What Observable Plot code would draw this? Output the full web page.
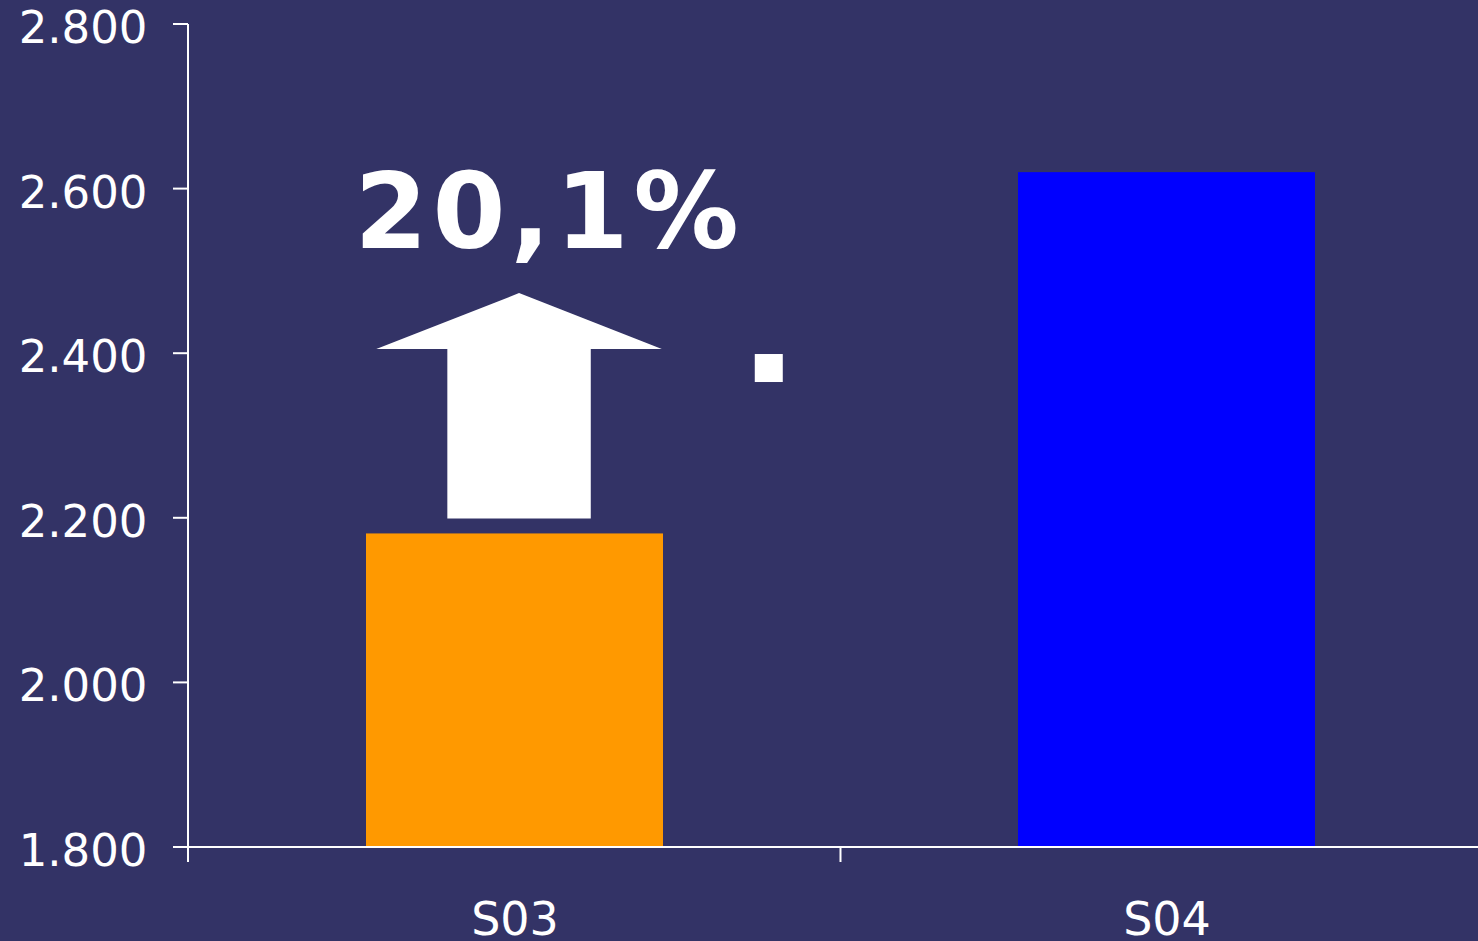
<!DOCTYPE html>
<html>
<head>
<meta charset="utf-8">
<script src="https://cdn.jsdelivr.net/npm/d3@7"></script>
<script src="https://cdn.jsdelivr.net/npm/@observablehq/plot@0.6"></script>
<style>
  html, body { margin: 0; padding: 0; background: #333366; overflow: hidden; }
  #chart svg { max-width: none !important; display: block; }
</style>
</head>
<body>
<div id="chart"></div>
<script>
// Data
const categories = ["S03", "S04"];
const values = [2181, 2620];
const barColors = ["#FF9900", "#0000FF"];
const yTicks = [1800, 2000, 2200, 2400, 2600, 2800];
const yDomain = [1800, 2800];

const data = categories.map((c, i) => ({category: c, value: values[i], color: barColors[i]}));
const growth = (values[1] / values[0] - 1) * 100;
const growthLabel = growth.toFixed(1).replace(".", ",") + "%";

const W = 1492, H = 941;
const mL = 188, mR = 0, mT = 24, mB = 94;
const PI = 0.5445, PO = PI / 2;
const fontFamily = "'DejaVu Sans', Verdana, sans-serif";
const fmt = d => d3.format(",")(d).replace(/,/g, ".");

// axes lines and boundary ticks, drawn using the scales
function axisFrame(index, scales, values, dims) {
  const g = d3.create("svg:g").attr("stroke", "white").attr("stroke-width", 2).attr("fill", "none");
  const x = scales.x, y = scales.y;
  const step = x(categories[1]) - x(categories[0]);
  const bandStart0 = x(categories[0]) - PO * step;
  const y0 = y(yDomain[0]), y1 = y(yDomain[1]);
  // y axis line (extends below like a tick)
  g.append("line").attr("x1", mL).attr("x2", mL).attr("y1", y1).attr("y2", y0 + 15);
  // x axis line (extends left like a tick)
  g.append("line").attr("x1", mL - 15).attr("x2", dims.width).attr("y1", y0).attr("y2", y0);
  // y ticks
  for (const t of yTicks) g.append("line").attr("x1", mL - 15).attr("x2", mL).attr("y1", y(t)).attr("y2", y(t));
  // x ticks at band boundaries
  for (let i = 1; i <= categories.length; i++) {
    const xb = bandStart0 + i * step;
    g.append("line").attr("x1", xb).attr("x2", xb).attr("y1", y0).attr("y2", y0 + 15);
  }
  return g.node();
}

// Growth annotation: arrow, percentage label and small square
function annotation(index, scales) {
  const x = scales.x, y = scales.y;
  const step = x(categories[1]) - x(categories[0]);
  const bw = step * (1 - PI);
  const c = x(categories[0]) + bw / 2;
  const g = d3.create("svg:g").attr("fill", "white");
  const ac = c + 0.007 * step;
  const hw = 0.219 * step, sw = 0.110 * step;
  const yTip = y(2473), yShoulder = y(2405), yBase = y(2199);
  g.append("path").attr("d", `M${ac},${yTip}L${ac + hw},${yShoulder}L${ac + sw},${yShoulder}L${ac + sw},${yBase}L${ac - sw},${yBase}L${ac - sw},${yShoulder}L${ac - hw},${yShoulder}Z`);
  g.append("text")
    .attr("x", c + 0.053 * step).attr("y", y(2528))
    .attr("text-anchor", "middle")
    .attr("font-family", fontFamily).attr("font-weight", "bold")
    .attr("font-size", 105).attr("letter-spacing", 5)
    .text(growthLabel);
  const sq = c + 0.39 * step, sy = y(2382);
  g.append("rect").attr("x", sq - 14).attr("y", sy - 14).attr("width", 28).attr("height", 28);
  return g.node();
}

const chart = Plot.plot({
  width: W, height: H,
  marginLeft: mL, marginRight: mR, marginTop: mT, marginBottom: mB,
  style: {background: "#333366", color: "white", fontFamily, overflow: "visible"},
  x: {domain: categories, paddingInner: PI, paddingOuter: PO},
  y: {domain: yDomain, range: [H - mB, mT]},
  marks: [
    Plot.barY(data, {x: "category", y1: yDomain[0], y2: "value", fill: "color"}),
    Plot.axisY({ticks: yTicks, tickFormat: fmt, tickSize: 0, tickPadding: 41, fontSize: 45, dy: 4, label: null, fill: "white"}),
    Plot.axisX({tickSize: 0, tickPadding: 55, fontSize: 46, label: null, fill: "white"}),
    axisFrame,
    annotation
  ]
});
document.getElementById("chart").appendChild(chart);
</script>
</body>
</html>
